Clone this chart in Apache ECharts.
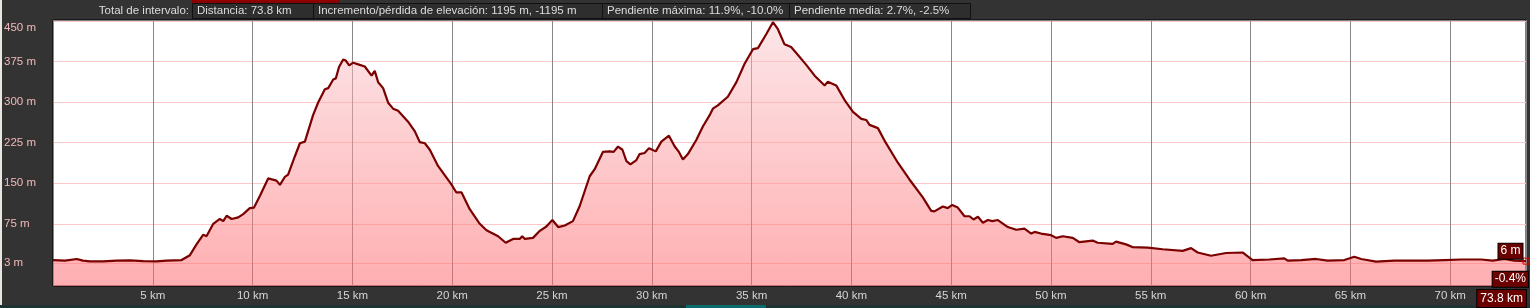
<!DOCTYPE html>
<html><head><meta charset="utf-8">
<script src="https://cdn.jsdelivr.net/npm/echarts@6/dist/echarts.min.js"></script>
<style>html,body{margin:0;padding:0;background:#333;}#c{width:1530px;height:308px;}</style>
</head><body><div id="c"></div>
<script>
// ---- data ----
const distKm = [0, 0.6, 1.19, 1.5, 1.85, 2.52, 3.19, 3.86, 4.52, 5.19, 5.69, 6.44, 6.86, 7.19, 7.53, 7.69, 8.03, 8.36, 8.53, 8.7, 8.95, 9.28, 9.53, 9.86, 10.07, 10.37, 10.78, 11.2, 11.37, 11.62, 11.78, 12.12, 12.37, 12.62, 13.03, 13.28, 13.62, 13.79, 14.04, 14.17, 14.33, 14.54, 14.67, 14.84, 15.04, 15.37, 15.62, 15.96, 16.12, 16.29, 16.54, 16.79, 17.04, 17.29, 17.79, 18.13, 18.38, 18.63, 18.88, 19.29, 19.96, 20.21, 20.47, 20.88, 21.38, 21.72, 22.3, 22.68, 23.05, 23.38, 23.51, 23.64, 24.05, 24.39, 24.72, 25.02, 25.31, 25.64, 26.05, 26.39, 26.89, 27.14, 27.55, 27.89, 28.09, 28.31, 28.53, 28.73, 28.93, 29.23, 29.39, 29.64, 29.86, 30.2, 30.48, 30.86, 31.15, 31.36, 31.56, 31.81, 32.23, 32.56, 32.9, 33.06, 33.31, 33.81, 34.24, 34.65, 35.07, 35.32, 35.74, 36.07, 36.32, 36.65, 36.98, 37.24, 37.74, 38.16, 38.66, 38.82, 39.24, 39.66, 40.08, 40.5, 40.75, 40.91, 41.33, 41.66, 42.33, 42.91, 43.58, 44.0, 44.16, 44.58, 44.83, 45.05, 45.33, 45.67, 45.92, 46.12, 46.34, 46.59, 46.84, 47.06, 47.34, 47.84, 48.26, 48.67, 49.01, 49.18, 49.5, 50.01, 50.26, 50.59, 51.09, 51.43, 52.09, 52.34, 53.09, 53.26, 53.76, 54.08, 54.85, 55.6, 56.6, 57.02, 57.35, 58.02, 58.77, 59.6, 60.1, 60.94, 61.69, 61.86, 62.53, 63.28, 63.87, 64.7, 65.2, 65.54, 66.29, 67.2, 68.04, 68.87, 69.71, 70.55, 71.55, 72.13, 72.72, 73.22, 73.8];
const elevM = [8, 7, 10, 7, 5.5, 5.5, 7, 7.5, 6, 5.5, 7, 8, 17, 37, 55, 52, 75, 84, 80, 90, 84, 87, 93, 104, 105, 127, 159, 155, 147, 162, 166, 200, 224, 227, 276, 299, 324, 326, 342, 344, 365, 379, 377, 368, 373, 369, 366, 349, 358, 337, 326, 299, 288, 284, 264, 246, 226, 224, 212, 182, 148, 133, 133, 102, 75, 63, 52, 40, 47, 47, 52, 47, 49, 62, 70, 82, 69, 72, 80, 108, 163, 176, 208, 209, 208, 218, 212, 191, 185, 193, 204, 206, 215, 209, 227, 238, 218, 208, 194, 204, 230, 255, 276, 288, 294, 310, 337, 371, 398, 400, 426, 448, 435, 407, 402, 391, 369, 349, 331, 338, 331, 304, 282, 269, 267, 258, 252, 229, 188, 157, 124, 99, 98, 107, 104, 110, 105, 89, 89, 83, 88, 77, 82, 80, 82, 69, 64, 66, 57, 60, 57, 54, 49, 52, 49, 41, 44, 40, 38, 42, 37, 32, 31, 28, 25, 30, 22, 16, 21, 22, 8, 9, 11, 7, 8, 10, 7, 8, 14, 10, 5, 7, 7, 7, 8, 9, 9, 7, 10, 7, 6];
const yTickValues = [3, 75, 150, 225, 300, 375, 450];
const xInterval = 5;
const totalDistKm = 73.8;
const elevGainLoss = [1195, -1195];
const maxSlope = ['11.9', '-10.0'];
const avgSlope = ['2.7', '-2.5'];
const endSlope = '-0.4';

// ---- chart ----
const FONT = '"Liberation Sans", Arial, sans-serif';
const FS = 11.5;
const chart = echarts.init(document.getElementById('c'));
const lastIdx = distKm.length - 1;

const headerBoxes = [
  { x: 192, w: 121, text: 'Distancia: ' + totalDistKm + ' km' },
  { x: 313, w: 289, text: 'Incremento/pérdida de elevación: ' + elevGainLoss[0] + ' m, ' + elevGainLoss[1] + ' m' },
  { x: 602, w: 187, text: 'Pendiente máxima: ' + maxSlope[0] + '%, ' + maxSlope[1] + '%' },
  { x: 789, w: 181, text: 'Pendiente media: ' + avgSlope[0] + '%, ' + avgSlope[1] + '%' }
];
const graphics = [
  { type: 'rect', shape: { x: 0, y: 0, width: 2, height: 305 }, style: { fill: '#e9e5df' }, silent: true },
  { type: 'rect', shape: { x: 192, y: 0, width: 148, height: 3 }, style: { fill: '#8b0000' }, silent: true },
  { type: 'rect', shape: { x: 0, y: 305, width: 1530, height: 3 }, style: { fill: '#1f3333' }, silent: true },
  { type: 'rect', shape: { x: 686, y: 305, width: 80, height: 3 }, style: { fill: '#0a6b6d' }, silent: true },
  { type: 'text', x: 189, y: 11, style: { text: 'Total de intervalo:', fill: '#dddddd', font: FS + 'px ' + FONT, textAlign: 'right', textVerticalAlign: 'middle' }, silent: true }
];
headerBoxes.forEach(b => {
  graphics.push({ type: 'rect', shape: { x: b.x + 0.5, y: 3.5, width: b.w, height: 15 }, style: { fill: '#2e2e2e', stroke: '#111', lineWidth: 1 }, silent: true });
  graphics.push({ type: 'text', x: b.x + 5, y: 11, style: { text: b.text, fill: '#dddddd', font: FS + 'px ' + FONT, textVerticalAlign: 'middle' }, silent: true });
});

const boxLabel = {
  color: '#fff', backgroundColor: '#6b0000', borderColor: '#000', borderWidth: 1,
  padding: [2, 2, 1, 2], fontSize: 12, fontFamily: FONT
};

chart.setOption({
  animation: false,
  backgroundColor: '#333333',
  grid: { left: 53, right: 3, top: 20, bottom: 20, show: true, backgroundColor: '#ffffff', borderColor: '#000', borderWidth: 1 },
  xAxis: {
    type: 'value', min: 0, max: totalDistKm, interval: xInterval,
    axisLine: { show: false }, axisTick: { show: false },
    splitLine: { show: true, lineStyle: { color: '#888888', width: 1 } },
    axisLabel: {
      color: '#d6d6d6', fontSize: FS, fontFamily: FONT, margin: 4, alignMaxLabel: 'right',
      formatter: v => v === 0 ? '' : (Math.abs(v - totalDistKm) < 1e-6 ? '{end|' + v + ' km}' : v + ' km'),
      rich: { end: Object.assign({}, boxLabel, { padding: [3, 3, 2, 3] }) }
    }
  },
  yAxis: {
    type: 'value', min: -40, max: 452,
    axisLine: { show: false },
    axisTick: { show: false, customValues: yTickValues },
    splitLine: { show: true, lineStyle: { color: '#ffc8c8', width: 1 } },
    axisLabel: {
      customValues: yTickValues,
      color: '#f2b8b8', fontSize: FS, fontFamily: FONT, align: 'left', margin: 49,
      formatter: v => v === 450 ? '{top|' + v + ' m}' : v + ' m',
      rich: { top: { color: '#f2b8b8', fontSize: FS, fontFamily: FONT, padding: [13, 0, 0, 0] } }
    }
  },
  series: [{
    type: 'line',
    data: distKm.map((d, i) => [d, elevM[i]]),
    showSymbol: false,
    lineStyle: { color: '#7b0000', width: 2.2 },
    areaStyle: {
      origin: 'start',
      opacity: 1,
      color: new echarts.graphic.LinearGradient(0, 20, 0, 288, [
        { offset: 0, color: 'rgba(250,205,210,0.5)' },
        { offset: 1, color: 'rgba(255,100,105,0.52)' }
      ], true)
    },
    markPoint: {
      silent: true,
      data: [
        {
          coord: [distKm[lastIdx], elevM[lastIdx]], symbol: 'rect', symbolSize: 6,
          itemStyle: { color: 'rgba(0,0,0,0)', borderColor: '#e00000', borderWidth: 1 },
          label: Object.assign({ show: true, position: 'left', distance: 5, offset: [5, -10], formatter: elevM[lastIdx] + ' m' }, boxLabel)
        },
        {
          coord: [distKm[lastIdx], elevM[lastIdx]], symbol: 'rect', symbolSize: 6,
          itemStyle: { color: 'rgba(0,0,0,0)', borderWidth: 0 },
          label: Object.assign({ show: true, position: 'left', distance: 5, offset: [10, 18], formatter: endSlope + '%' }, boxLabel)
        }
      ]
    }
  }],
  graphic: graphics
});
</script>
</body></html>
